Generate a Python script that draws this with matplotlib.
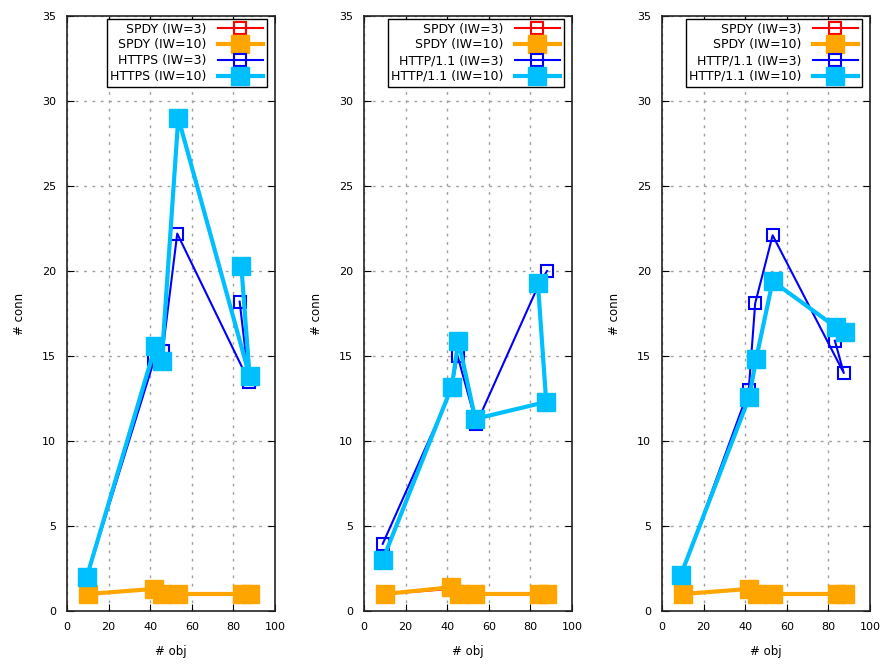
import matplotlib.pyplot as plt

# x = number of objects on the page, y = number of connections
# SPDY (IW=3) sits under SPDY (IW=10) in every panel
spdy_x = [10, 42, 45.5, 53.5, 84, 88]
spdy3_y = [1, 1.3, 1, 1, 1, 1]
spdy10_y = [[1, 1.3, 1, 1, 1, 1],
            [1, 1.4, 1, 1, 1, 1],
            [1, 1.3, 1, 1, 1, 1]]

http_labels = ["HTTPS", "HTTP/1.1", "HTTP/1.1"]

http3_x = [[9.5, 42, 46, 53, 87.5, 83],
           [9, 42, 45, 54, 84, 88],
           [9, 41.7, 44.8, 53.2, 87.4, 83.1]]
http3_y = [[2, 14.8, 15.3, 22.2, 13.5, 18.2],
           [3.95, 13, 15, 11, 19.2, 20],
           [2, 13, 18.1, 22.1, 14, 15.9]]

http10_x = [[9.5, 42.5, 45.5, 53.5, 87.8, 83.8],
            [9, 42.2, 45.4, 53.5, 87.6, 83.6],
            [9, 42, 45.2, 53.2, 83.6, 87.9]]
http10_y = [[2, 15.6, 14.7, 29, 13.8, 20.3],
            [3, 13.2, 15.9, 11.3, 12.3, 19.3],
            [2.1, 12.6, 14.8, 19.4, 16.7, 16.4]]

xticks = [0, 20, 40, 60, 80, 100]
yticks = [0, 5, 10, 15, 20, 25, 30, 35]

RED = "#ff0000"
ORANGE = "#ffa500"
BLUE = "#0000ff"
CYAN = "#00bfff"

fig = plt.figure(figsize=(8.81, 6.64), dpi=100)
lefts = [67, 364, 662]

for i in range(3):
    ax = fig.add_axes([lefts[i] / 881, 53 / 664, 208 / 881, 595 / 664])
    ax.plot(spdy_x, spdy3_y, color=RED, lw=1.5, marker="s", ms=9,
            mfc="none", mec=RED, mew=1.5, label="SPDY (IW=3)")
    ax.plot(spdy_x, spdy10_y[i], color=ORANGE, lw=3, marker="s", ms=12.5,
            mfc=ORANGE, mec=ORANGE, label="SPDY (IW=10)")
    ax.plot(http3_x[i], http3_y[i], color=BLUE, lw=1.5, marker="s", ms=9,
            mfc="none", mec=BLUE, mew=1.5, label=f"{http_labels[i]} (IW=3)")
    ax.plot(http10_x[i], http10_y[i], color=CYAN, lw=3, marker="s", ms=12.5,
            mfc=CYAN, mec=CYAN, label=f"{http_labels[i]} (IW=10)")

    ax.set_xlim(0, 100)
    ax.set_ylim(0, 35)
    ax.set_xticks(xticks)
    ax.set_yticks(yticks)
    ax.tick_params(direction="in", top=True, right=True, length=5,
                   labelsize=8, pad=8)
    ax.grid(True, color="#a0a0a0", linestyle=(0, (2, 4)), lw=1)
    for s in ax.spines.values():
        s.set_color("#222222")
        s.set_linewidth(1.2)

    ax.set_xlabel("# obj", fontsize=8.5, labelpad=9)
    ax.set_ylabel("# conn", fontsize=8.5, labelpad=11)

    leg = ax.legend(loc="upper right", bbox_to_anchor=(0.96, 0.995),
                    fontsize=9, markerfirst=False, numpoints=1,
                    handlelength=3.6, fancybox=False, framealpha=1,
                    edgecolor="black", borderpad=0.3, labelspacing=0.22,
                    handletextpad=0.9, borderaxespad=0)
    leg.get_frame().set_linewidth(1)

fig.savefig("out.png", dpi=100)
